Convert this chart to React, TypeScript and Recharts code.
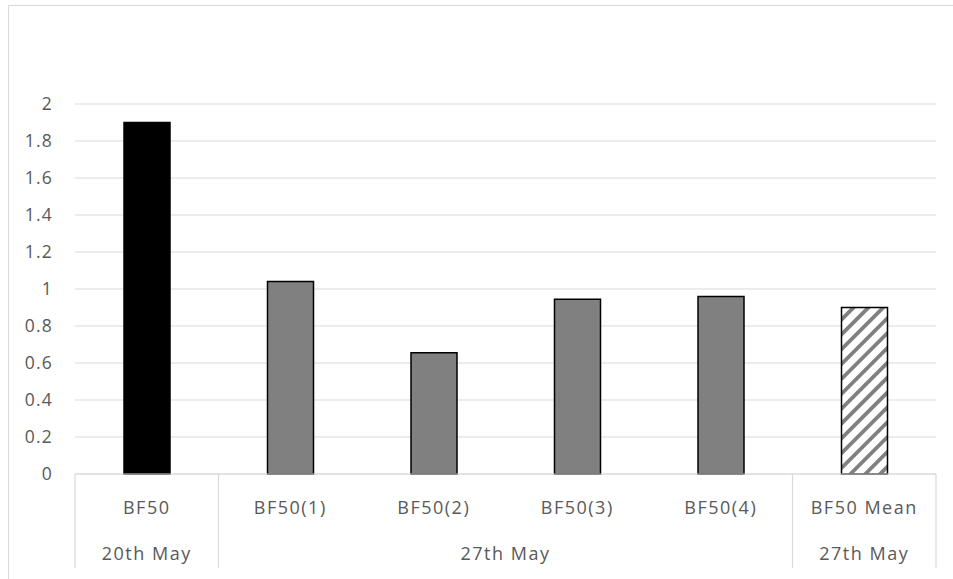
import { Bar, BarChart, CartesianGrid, Cell, XAxis, YAxis } from "recharts";

const names = ["BF50", "BF50(1)", "BF50(2)", "BF50(3)", "BF50(4)", "BF50 Mean"];
const groups = ["20th May", "27th May", "27th May", "27th May", "27th May", "27th May"];
const groupIds = [0, 1, 1, 1, 1, 2];
const values = [1.9, 1.04, 0.655, 0.945, 0.96, 0.9];
const yTicks = [0, 0.2, 0.4, 0.6, 0.8, 1, 1.2, 1.4, 1.6, 1.8, 2];

const W = 944;
const H = 573;
const M = { top: 98, right: 17, bottom: 11, left: 0 };
const Y_W = 66;
const BAND = (W - M.left - M.right - Y_W) / names.length;
const FONT = "'Open Sans', sans-serif";
const TEXT = "#595959";
const LINE = "#d9d9d9";

const fills = ["#000000", "#808080", "#808080", "#808080", "#808080", "url(#hatch)"];

const data = names.map((name, i) => ({ name, group: groups[i], gid: groupIds[i], value: values[i] }));

function CategoryTick(props: any) {
  const { x, y, index } = props;
  const gid = groupIds[index];
  const first = index === 0 || groupIds[index - 1] !== gid;
  const last = index === names.length - 1;
  let span = 0;
  while (index + span + 1 < names.length && groupIds[index + span + 1] === gid) span++;
  return (
    <g>
      {first && <line x1={x - BAND / 2} x2={x - BAND / 2} y1={y} y2={y + 94} stroke={LINE} strokeWidth={1.2} />}
      {last && <line x1={x + BAND / 2} x2={x + BAND / 2} y1={y} y2={y + 94} stroke={LINE} strokeWidth={1.2} />}
      <text x={x} y={y + 33} textAnchor="middle" dominantBaseline="central" fill={TEXT}
        fontFamily={FONT} fontSize={18} letterSpacing={1.5}>
        {names[index]}
      </text>
      {first && (
        <text x={x + (span * BAND) / 2} y={y + 79} textAnchor="middle" dominantBaseline="central" fill={TEXT}
          fontFamily={FONT} fontSize={18} letterSpacing={1.5}>
          {groups[index]}
        </text>
      )}
    </g>
  );
}

export default function App() {
  return (
    <div
      style={{
        position: "absolute",
        left: 8,
        top: 5,
        width: W,
        height: H,
        borderTop: `1px solid ${LINE}`,
        borderLeft: `1px solid ${LINE}`,
        background: "#fff",
      }}
    >
      <BarChart width={W} height={H} data={data} margin={M}>
        <defs>
          <pattern id="hatch" patternUnits="userSpaceOnUse" width={10.5} height={10.5} patternTransform="rotate(45)">
            <rect width={10.5} height={10.5} fill="#ffffff" />
            <rect width={3.8} height={10.5} fill="#808080" />
          </pattern>
        </defs>
        <CartesianGrid vertical={false} stroke={LINE} strokeWidth={1.2} />
        <XAxis
          dataKey="name"
          interval={0}
          height={94}
          axisLine={{ stroke: LINE, strokeWidth: 1.2 }}
          tickLine={false}
          tickSize={0}
          tickMargin={0}
          tick={<CategoryTick />}
        />
        <YAxis
          width={Y_W}
          domain={[0, 2]}
          ticks={yTicks}
          axisLine={false}
          tickLine={false}
          tickSize={0}
          tickMargin={22}
          tickFormatter={(v: number) => String(Number(v.toFixed(1)))}
          tick={{ fill: TEXT, fontFamily: FONT, fontSize: 17.5, letterSpacing: 1.2 }}
        />
        <Bar dataKey="value" barSize={46} stroke="#000000" strokeWidth={1.5} isAnimationActive={false}>
          {data.map((d, i) => (
            <Cell key={d.name} fill={fills[i]} />
          ))}
        </Bar>
      </BarChart>
    </div>
  );
}
